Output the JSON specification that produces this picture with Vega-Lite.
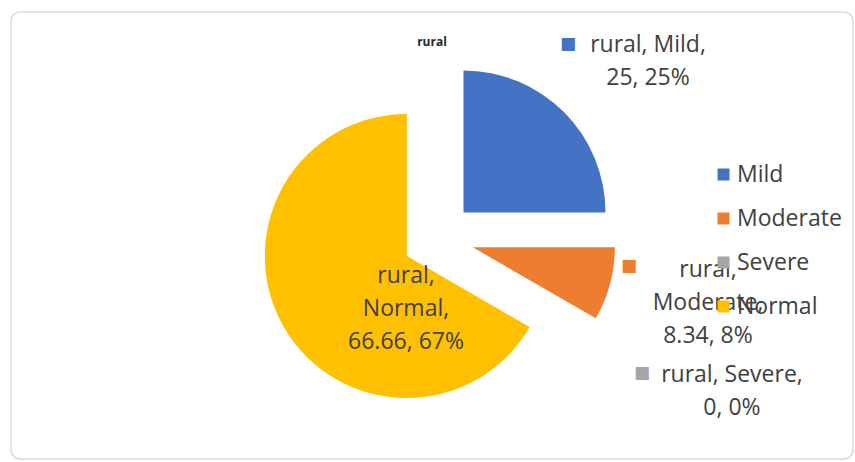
{
  "$schema": "https://vega.github.io/schema/vega-lite/v6.json",
  "width": 842,
  "height": 447,
  "autosize": "none",
  "padding": {"left": 11, "top": 12, "right": 2, "bottom": 3},
  "background": "#ffffff",
  "config": {
    "view": {"stroke": null},
    "text": {"font": "Open Sans", "fontSize": 23, "lineHeight": 33, "color": "#404040", "lineBreak": "\n"}
  },
  "title": {
    "text": "rural",
    "font": "Open Sans",
    "fontSize": 12,
    "fontWeight": "bold",
    "color": "#262626",
    "anchor": "middle",
    "offset": -38
  },
  "data": {
    "values": [
      {"category": "Mild", "value": 25, "order": 1, "label": "rural, Mild,\n25, 25%"},
      {"category": "Moderate", "value": 8.34, "order": 2, "label": "rural,\nModerate,\n8.34, 8%"},
      {"category": "Severe", "value": 0, "order": 3, "label": "rural, Severe,\n0, 0%"},
      {"category": "Normal", "value": 66.66, "order": 4, "label": "rural,\nNormal,\n66.66, 67%"}
    ]
  },
  "transform": [
    {"stack": "value", "groupby": [], "sort": [{"field": "order", "order": "ascending"}], "as": ["v0", "v1"]}
  ],
  "encoding": {
    "theta": {"field": "v0", "type": "quantitative", "scale": {"domain": [0, 100], "range": [0, 6.283185307]}},
    "color": {
      "field": "category",
      "type": "nominal",
      "scale": {"domain": ["Mild", "Moderate", "Severe", "Normal"], "range": ["#4472C4", "#ED7D31", "#A5A5A5", "#FFC000"]},
      "legend": {
        "title": null,
        "orient": "none",
        "legendX": 701,
        "legendY": 151,
        "symbolType": "square",
        "symbolSize": 144,
        "symbolStrokeWidth": 0,
        "labelFont": "Open Sans",
        "labelFontSize": 23,
        "labelColor": "#404040",
        "labelOffset": 2,
        "rowPadding": 20
      }
    }
  },
  "layer": [
    {
      "data": {"values": [{"frame": "chart area"}]},
      "transform": [],
      "mark": {"type": "rect", "x": 0, "y": 0, "x2": "width", "y2": "height", "fill": "#ffffff", "fillOpacity": 0, "stroke": "#d9d9d9", "strokeWidth": 1.5, "cornerRadius": 9},
      "encoding": {"theta": null, "color": null}
    },
    {"transform": [{"filter": "datum.category === 'Mild'"}], "mark": {"type": "arc", "radius": 142, "xOffset": 31.5, "yOffset": -23}, "encoding": {"theta2": {"field": "v1"}}},
    {"transform": [{"filter": "datum.category === 'Moderate'"}], "mark": {"type": "arc", "radius": 142, "xOffset": 40.8, "yOffset": 11.8}, "encoding": {"theta2": {"field": "v1"}}},
    {"transform": [{"filter": "datum.category === 'Normal'"}], "mark": {"type": "arc", "radius": 142, "xOffset": -25.2, "yOffset": 20.5}, "encoding": {"theta2": {"field": "v1"}}},
    {"transform": [{"filter": "datum.category === 'Mild'"}], "mark": {"type": "text", "radius": 190.5, "dx": 216, "dy": 0, "align": "center", "baseline": "middle"}, "encoding": {"text": {"field": "label"}, "color": {"value": "#404040"}}},
    {"transform": [{"filter": "datum.category === 'Moderate'"}], "mark": {"type": "text", "radius": 274, "dx": 2, "dy": 34.5, "align": "center", "baseline": "middle"}, "encoding": {"text": {"field": "label"}, "color": {"value": "#404040"}}},
    {"transform": [{"filter": "datum.category === 'Severe'"}], "mark": {"type": "text", "radius": 279, "dx": 58.4, "dy": 0, "align": "center", "baseline": "middle"}, "encoding": {"text": {"field": "label"}, "color": {"value": "#404040"}}},
    {"transform": [{"filter": "datum.category === 'Normal'"}], "mark": {"type": "text", "radius": 0, "dx": -26, "dy": 40.5, "align": "center", "baseline": "middle"}, "encoding": {"text": {"field": "label"}, "color": {"value": "#404040"}}},
    {"transform": [{"filter": "datum.category === 'Mild'"}], "mark": {"type": "text", "font": "DejaVu Sans", "fontSize": 17, "radius": 191.5, "dx": 136, "dy": 0, "align": "center", "baseline": "middle"}, "encoding": {"text": {"value": "■"}}},
    {"transform": [{"filter": "datum.category === 'Moderate'"}], "mark": {"type": "text", "font": "DejaVu Sans", "fontSize": 17, "radius": 197, "dx": 0, "dy": 30.5, "align": "center", "baseline": "middle"}, "encoding": {"text": {"value": "■"}}},
    {"transform": [{"filter": "datum.category === 'Severe'"}], "mark": {"type": "text", "font": "DejaVu Sans", "fontSize": 17, "radius": 275, "dx": -28, "dy": 0, "align": "center", "baseline": "middle"}, "encoding": {"text": {"value": "■"}}}
  ]
}
